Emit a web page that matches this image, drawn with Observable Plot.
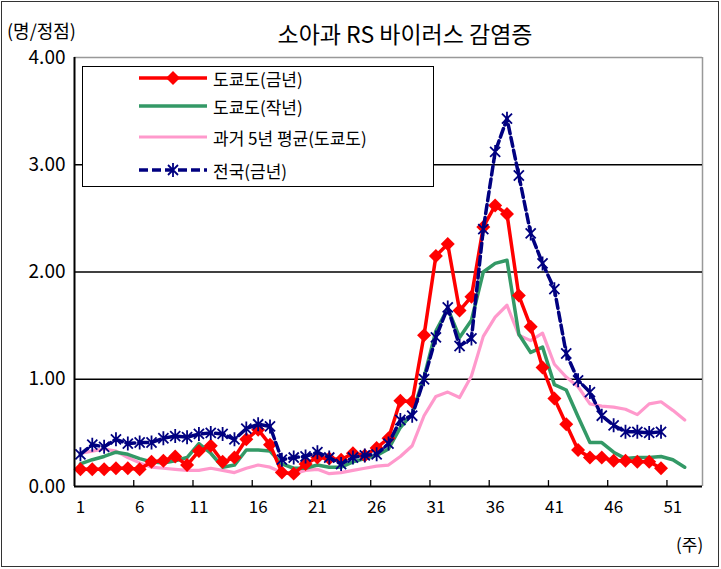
<!DOCTYPE html>
<html><head><meta charset="utf-8">
<script src="https://cdn.jsdelivr.net/npm/d3@7"></script>
<script src="https://cdn.jsdelivr.net/npm/@observablehq/plot@0.6"></script>
<style>
body{margin:0;background:#fff;}
#wrap{position:relative;width:721px;height:569px;overflow:hidden;font-family:"Noto Sans CJK KR","Noto Sans",sans-serif;}
#frame{position:absolute;left:1px;top:1px;width:716px;height:564px;border:1.5px solid #333;box-sizing:content-box;pointer-events:none;}
.t{position:absolute;white-space:nowrap;color:#000;line-height:1;}
#legend{position:absolute;left:82px;top:66px;width:350px;height:119px;border:1.5px solid #000;background:#fff;}
.lg{position:absolute;left:56px;height:22px;display:flex;align-items:center;}
.lg span{font-size:17px;margin-left:6px;}
</style></head>
<body><div id="wrap"></div>
<script>
// ---- data ----
const title = "소아과 RS 바이러스 감염증";
const yUnit = "(명/정점)";
const xUnit = "(주)";
const seriesNames = ["도쿄도(금년)", "도쿄도(작년)", "과거 5년 평균(도쿄도)", "전국(금년)"];
const xTickLabels = [1, 6, 11, 16, 21, 26, 31, 36, 41, 46, 51];
const xTickMarks = [5.5, 10.5, 15.5, 20.5, 25.5, 30.5, 35.5, 40.5, 45.5, 50.5];
const yTicks = [0, 1, 2, 3, 4];
const tokyoThisYear = [0.16,0.16,0.16,0.17,0.17,0.16,0.23,0.24,0.28,0.20,
  0.33,0.38,0.23,0.27,0.44,0.53,0.39,0.13,0.12,0.21,
  0.27,0.26,0.25,0.31,0.29,0.36,0.45,0.80,0.79,1.41,
  2.15,2.26,1.64,1.77,2.42,2.62,2.54,1.78,1.49,1.11,
  0.82,0.58,0.34,0.27,0.27,0.24,0.24,0.23,0.23,0.17];
const tokyoLastYear = [0.21,0.25,0.28,0.32,0.30,0.26,0.23,0.22,0.24,0.27,
  0.40,0.31,0.18,0.20,0.34,0.34,0.33,0.21,0.17,0.17,
  0.20,0.18,0.18,0.23,0.26,0.29,0.35,0.55,0.68,1.02,
  1.45,1.66,1.39,1.55,2.00,2.08,2.11,1.42,1.25,1.30,
  0.95,0.90,0.65,0.41,0.41,0.32,0.26,0.27,0.27,0.28,
  0.25,0.18];
const past5Avg = [0.31,0.33,0.35,0.33,0.27,0.22,0.18,0.17,0.16,0.15,
  0.15,0.17,0.15,0.13,0.17,0.20,0.18,0.13,0.12,0.15,
  0.16,0.12,0.13,0.15,0.17,0.19,0.20,0.28,0.38,0.66,
  0.84,0.88,0.83,1.03,1.40,1.58,1.69,1.41,1.36,1.43,
  1.14,1.02,0.93,0.77,0.75,0.74,0.72,0.67,0.77,0.79,
  0.71,0.62];
const national = [0.30,0.39,0.37,0.44,0.40,0.41,0.41,0.45,0.47,0.46,
  0.49,0.50,0.49,0.44,0.54,0.58,0.56,0.25,0.27,0.28,
  0.32,0.27,0.21,0.27,0.29,0.30,0.40,0.62,0.66,1.00,
  1.39,1.67,1.31,1.38,2.40,3.12,3.43,2.90,2.36,2.08,
  1.84,1.24,0.99,0.88,0.66,0.57,0.51,0.51,0.50,0.51];
const colors = ["#ff0000", "#339966", "#ff99cc", "#000080"];

const toRows = arr => arr.map((v, i) => ({week: i + 1, value: v}));
const red = toRows(tokyoThisYear), green = toRows(tokyoLastYear),
      pink = toRows(past5Avg), blue = toRows(national);

const asterisk = {draw(ctx, size) {
  const r = Math.sqrt(size / Math.PI), d = r * 0.72;
  ctx.moveTo(0, -r); ctx.lineTo(0, r);
  ctx.moveTo(-d, -d); ctx.lineTo(d, d);
  ctx.moveTo(-d, d); ctx.lineTo(d, -d);
}};

const chart = Plot.plot({
  width: 721, height: 569,
  marginLeft: 74, marginRight: 19, marginTop: 57, marginBottom: 83,
  style: {fontFamily: "'Noto Sans CJK KR', sans-serif", background: "transparent"},
  x: {domain: [0.5, 53.5], label: null},
  y: {domain: [0, 4], label: null},
  marks: [
    Plot.ruleY([4], {stroke: "#999", strokeWidth: 1.5}),
    Plot.ruleX([53.5], {stroke: "#999", strokeWidth: 1.5}),
    Plot.ruleY([1, 2, 3], {stroke: "#000", strokeWidth: 1.5}),
    Plot.lineY(pink, {x: "week", y: "value", stroke: colors[2], strokeWidth: 3.2}),
    Plot.lineY(green, {x: "week", y: "value", stroke: colors[1], strokeWidth: 3.5}),
    Plot.lineY(red, {x: "week", y: "value", stroke: colors[0], strokeWidth: 3.5}),
    Plot.dot(red, {x: "week", y: "value", symbol: "diamond2", r: 6.3, fill: colors[0], stroke: "none"}),
    Plot.lineY(blue, {x: "week", y: "value", stroke: colors[3], strokeWidth: 3.5, strokeDasharray: "9,4"}),
    Plot.dot(blue, {x: "week", y: "value", symbol: asterisk, r: 7, stroke: colors[3], strokeWidth: 1.8, fill: "none"}),
    Plot.ruleX([0.5], {stroke: "#000", strokeWidth: 2}),
    Plot.ruleY([0], {stroke: "#000", strokeWidth: 2}),
    Plot.ruleX(xTickMarks, {y1: 0, y2: 0.055, stroke: "#000", strokeWidth: 1.3}),
    Plot.axisY({ticks: yTicks, tickFormat: d => d.toFixed(2), tickSize: 0, tickPadding: 9, fontSize: 19, label: null}),
    Plot.axisX({ticks: xTickLabels, tickFormat: d => String(d), tickSize: 0, tickPadding: 14, fontSize: 17, label: null})
  ]
});
chart.style.position = "absolute";
chart.style.left = "0px";
chart.style.top = "0px";
const wrap = document.getElementById("wrap");
wrap.appendChild(chart);

function addText(txt, css) {
  const d = document.createElement("div");
  d.className = "t"; d.textContent = txt;
  Object.assign(d.style, css);
  wrap.appendChild(d);
}
addText(title, {left: "0px", width: "810px", textAlign: "center", top: "22px", fontSize: "23px"});
addText(yUnit, {left: "7px", top: "21px", fontSize: "18px"});
addText(xUnit, {left: "676px", top: "535px", fontSize: "17px"});

// legend
const leg = document.createElement("div");
leg.id = "legend";
const tops = [0, 28, 59, 92];
const ns = "http://www.w3.org/2000/svg";
seriesNames.forEach((name, i) => {
  const row = document.createElement("div");
  row.className = "lg"; row.style.top = tops[i] + "px";
  const svg = document.createElementNS(ns, "svg");
  svg.setAttribute("width", 68); svg.setAttribute("height", 20);
  const ln = document.createElementNS(ns, "line");
  ln.setAttribute("x1", 0); ln.setAttribute("x2", 68);
  ln.setAttribute("y1", 10); ln.setAttribute("y2", 10);
  ln.setAttribute("stroke", colors[i]);
  ln.setAttribute("stroke-width", i === 2 ? 3.2 : 3.5);
  if (i === 3) ln.setAttribute("stroke-dasharray", "9,4");
  svg.appendChild(ln);
  if (i === 0) {
    const p = document.createElementNS(ns, "path");
    p.setAttribute("d", "M34,3L41,10L34,17L27,10Z"); p.setAttribute("fill", colors[0]);
    svg.appendChild(p);
  }
  if (i === 3) {
    const p = document.createElementNS(ns, "path");
    p.setAttribute("d", "M34,3V17M29,5L39,15M29,15L39,5");
    p.setAttribute("stroke", colors[3]); p.setAttribute("stroke-width", 1.8); p.setAttribute("fill", "none");
    svg.appendChild(p);
  }
  row.appendChild(svg);
  const s = document.createElement("span"); s.textContent = name;
  row.appendChild(s);
  leg.appendChild(row);
});
wrap.appendChild(leg);
const fr = document.createElement("div"); fr.id = "frame"; wrap.appendChild(fr);
</script></body></html>
